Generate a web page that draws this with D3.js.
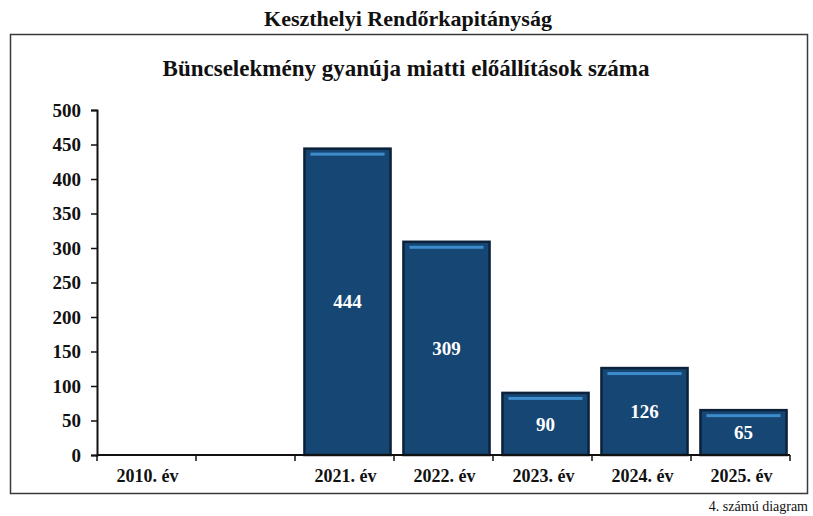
<!DOCTYPE html>
<html>
<head>
<meta charset="utf-8">
<script src="https://cdn.jsdelivr.net/npm/d3@7"></script>
<style>
  body { margin: 0; background: #fff; }
  text { font-family: "Liberation Serif", "Times New Roman", serif; }
</style>
</head>
<body>
<div id="chart"></div>
<script>
// data
let categories = ["2010. év", "", "2021. év", "2022. év", "2023. év", "2024. év", "2025. év"];
let values = [null, null, 444, 309, 90, 126, 65];
let yTicks = [0, 50, 100, 150, 200, 250, 300, 350, 400, 450, 500];
let title = "Keszthelyi Rendőrkapitányság";
let subtitle = "Büncselekmény gyanúja miatti előállítások száma";
let caption = "4. számú diagram";

let width = 813, height = 516;
let margin = {left: 97, right: 23, top: 110, bottom: 61};
let barShift = 3;

let svg = d3.select("#chart").append("svg")
    .attr("width", width)
    .attr("height", height);

// frame around the chart
svg.append("rect")
    .attr("x", 10.5).attr("y", 34.5)
    .attr("width", 797).attr("height", 459)
    .attr("fill", "#fff")
    .attr("stroke", "#3a3a3a")
    .attr("stroke-width", 1.5);

svg.append("text")
    .attr("x", 408).attr("y", 26)
    .attr("text-anchor", "middle")
    .style("font-size", "22px").style("font-weight", "bold")
    .attr("fill", "#111")
    .text(title);

svg.append("text")
    .attr("x", 406).attr("y", 76)
    .attr("text-anchor", "middle")
    .style("font-size", "23px").style("font-weight", "bold")
    .attr("fill", "#111")
    .text(subtitle);

svg.append("text")
    .attr("x", 808).attr("y", 511)
    .attr("text-anchor", "end")
    .style("font-size", "14px")
    .attr("fill", "#111")
    .text(caption);

let x = d3.scaleBand()
    .domain(categories.map(function(d, i) { return i; }))
    .range([margin.left, width - margin.right])
    .paddingInner(0.13).paddingOuter(0.065);

let y = d3.scaleLinear()
    .domain([0, 500])
    .range([height - margin.bottom, margin.top]);

let data = categories.map(function(c, i) { return {key: c, value: values[i], i: i}; });
let withBars = data.filter(function(d) { return d.value != null; });

let g = svg.append("g");

// bars with darker edge and a light stripe near the top
let bar = g.selectAll(".bar")
    .data(withBars)
    .enter().append("g")
    .attr("class", "bar");

bar.append("rect")
    .attr("x", function(d) { return x(d.i) + barShift; })
    .attr("y", function(d) { return y(d.value); })
    .attr("width", x.bandwidth())
    .attr("height", function(d) { return y(0) - y(d.value); })
    .attr("fill", "#164673")
    .attr("stroke", "#0b223a")
    .attr("stroke-width", 2.5);

bar.append("rect")
    .attr("x", function(d) { return x(d.i) + barShift + 6; })
    .attr("y", function(d) { return y(d.value) + 4; })
    .attr("width", x.bandwidth() - 12)
    .attr("height", 3)
    .attr("fill", "#3d8ccb");

bar.append("text")
    .attr("x", function(d) { return x(d.i) + barShift + x.bandwidth() / 2; })
    .attr("y", function(d) { return (y(d.value) + y(0)) / 2; })
    .attr("dy", "0.35em")
    .attr("text-anchor", "middle")
    .attr("fill", "#fff")
    .style("font-size", "19px").style("font-weight", "bold")
    .text(function(d) { return d.value; });

// y axis
let yAxis = svg.append("g")
    .attr("transform", "translate(" + margin.left + ",0)")
    .call(d3.axisLeft(y).tickValues(yTicks).tickSize(6).tickPadding(10));

yAxis.select(".domain").attr("stroke", "#111").attr("stroke-width", 2);
yAxis.selectAll(".tick line").attr("stroke", "#111").attr("stroke-width", 1.5);
yAxis.selectAll(".tick text")
    .style("font-family", "'Liberation Serif', serif")
    .style("font-size", "19px").style("font-weight", "bold")
    .attr("fill", "#111");

// x axis: ticks sit between the categories
let xAxis = svg.append("g")
    .attr("transform", "translate(0," + y(0) + ")");

xAxis.append("line")
    .attr("x1", margin.left).attr("x2", width - margin.right)
    .attr("stroke", "#111").attr("stroke-width", 2);

let bounds = d3.range(categories.length + 1).map(function(i) {
    return margin.left + i * x.step();
});

xAxis.selectAll(".xtick")
    .data(bounds)
    .enter().append("line")
    .attr("class", "xtick")
    .attr("x1", function(d) { return d; }).attr("x2", function(d) { return d; })
    .attr("y1", 0).attr("y2", 6)
    .attr("stroke", "#111").attr("stroke-width", 1.5);

xAxis.selectAll(".xlabel")
    .data(data)
    .enter().append("text")
    .attr("class", "xlabel")
    .attr("x", function(d) { return x(d.i) + x.bandwidth() / 2 + 1; })
    .attr("y", 27)
    .attr("text-anchor", "middle")
    .style("font-size", "18px").style("font-weight", "bold")
    .attr("fill", "#111")
    .text(function(d) { return d.key; });
</script>
</body>
</html>
